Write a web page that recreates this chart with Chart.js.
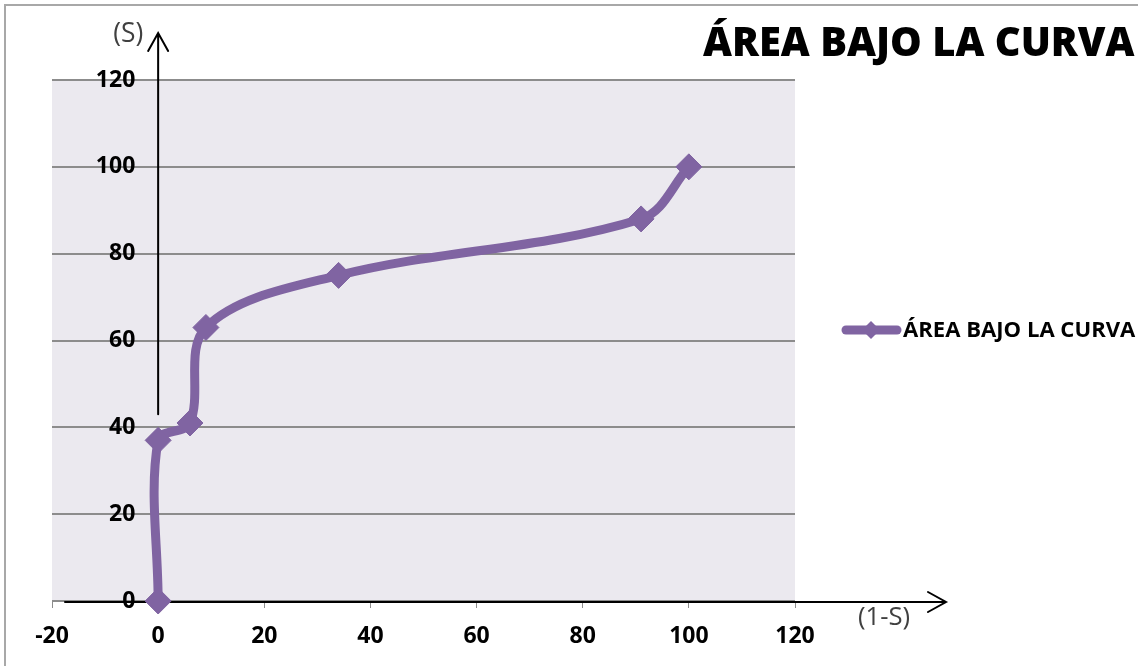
<!DOCTYPE html>
<html>
<head>
<meta charset="utf-8">
<script src="https://cdn.jsdelivr.net/npm/chart.js@4/dist/chart.umd.min.js"></script>
<style>
  html, body { margin: 0; padding: 0; background: #ffffff; }
  #wrap { width: 1138px; height: 666px; position: relative; }
</style>
</head>
<body>
<div id="wrap"><canvas id="c"></canvas></div>
<script>
// Curve points: x = (1-S), y = (S)
const seriesName = 'ÁREA BAJO LA CURVA';
const xValues = [0, 0, 6, 9, 34, 91, 100];
const yValues = [0, 37, 41, 63, 75, 88, 100];
const xTicks = [-20, 0, 20, 40, 60, 80, 100, 120];
const yTicks = [0, 20, 40, 60, 80, 100, 120];

const purple = '#8064A2';
const labelFont = '"Open Sans", Lato, sans-serif';

const points = xValues.map((x, i) => ({ x: x, y: yValues[i] }));

// Frame, plot background, title, legend and the two axis arrows
const decorations = {
  id: 'decorations',
  beforeDraw(chart) {
    const { ctx, chartArea: a } = chart;
    ctx.save();
    ctx.fillStyle = '#ffffff';
    ctx.fillRect(0, 0, chart.width, chart.height);
    // outer frame
    ctx.strokeStyle = '#a8a8a8';
    ctx.lineWidth = 2;
    ctx.beginPath();
    ctx.moveTo(5, chart.height);
    ctx.lineTo(5, 5);
    ctx.lineTo(chart.width, 5);
    ctx.stroke();
    // plot area fill
    ctx.fillStyle = '#EBE9EF';
    ctx.fillRect(a.left, a.top, a.right - a.left, a.bottom - a.top);
    ctx.restore();
  },
  beforeDatasetsDraw(chart) {
    const { ctx, chartArea: a, scales } = chart;
    const x0 = scales.x.getPixelForValue(0);
    const y0 = scales.y.getPixelForValue(0);
    ctx.save();
    ctx.strokeStyle = '#000000';
    ctx.lineWidth = 2;
    ctx.lineCap = 'round';
    // vertical arrow (S)
    const yStart = scales.y.getPixelForValue(43);
    const yTip = a.top - 47;
    ctx.beginPath();
    ctx.moveTo(x0, yStart);
    ctx.lineTo(x0, yTip);
    ctx.moveTo(x0 - 10, yTip + 18);
    ctx.lineTo(x0, yTip);
    ctx.lineTo(x0 + 10, yTip + 18);
    ctx.stroke();
    // horizontal arrow (1-S)
    const xTip = a.right + 151;
    const yA = y0 + 1;
    ctx.beginPath();
    ctx.moveTo(a.left + 13, yA);
    ctx.lineTo(xTip, yA);
    ctx.moveTo(xTip - 18, yA - 10);
    ctx.lineTo(xTip, yA);
    ctx.lineTo(xTip - 18, yA + 10);
    ctx.stroke();
    // arrow captions
    ctx.fillStyle = '#404040';
    ctx.font = '24px ' + labelFont;
    ctx.textBaseline = 'middle';
    ctx.textAlign = 'left';
    let cw = ctx.measureText('(S)').width;
    ctx.font = (24 * 30 / cw).toFixed(1) + 'px ' + labelFont;
    ctx.fillText('(S)', x0 - 45, a.top - 46);
    ctx.font = '24px ' + labelFont;
    cw = ctx.measureText('(1-S)').width;
    ctx.font = (24 * 52 / cw).toFixed(1) + 'px ' + labelFont;
    ctx.fillText('(1-S)', a.right + 63, y0 + 17);
    ctx.restore();
  },
  afterDraw(chart) {
    const { ctx } = chart;
    ctx.save();
    // title
    ctx.fillStyle = '#000000';
    ctx.textBaseline = 'alphabetic';
    ctx.textAlign = 'left';
    ctx.font = '800 36px ' + labelFont;
    const w = ctx.measureText(seriesName).width;
    ctx.font = '800 ' + (36 * 432 / w).toFixed(1) + 'px ' + labelFont;
    ctx.fillText(seriesName, 703, 56);
    // legend
    const ly = 330;
    ctx.strokeStyle = purple;
    ctx.lineWidth = 9;
    ctx.lineCap = 'round';
    ctx.beginPath();
    ctx.moveTo(846, ly);
    ctx.lineTo(897, ly);
    ctx.stroke();
    ctx.fillStyle = purple;
    ctx.beginPath();
    ctx.moveTo(871, ly - 9);
    ctx.lineTo(880, ly);
    ctx.lineTo(871, ly + 9);
    ctx.lineTo(862, ly);
    ctx.closePath();
    ctx.fill();
    ctx.fillStyle = '#000000';
    ctx.font = 'bold 20px ' + labelFont;
    const lw = ctx.measureText(seriesName).width;
    ctx.font = 'bold ' + (20 * 232 / lw).toFixed(1) + 'px ' + labelFont;
    ctx.textBaseline = 'middle';
    ctx.fillText(seriesName, 903, ly + 1);
    ctx.restore();
  }
};

new Chart(document.getElementById('c'), {
  type: 'scatter',
  data: {
    datasets: [{
      label: seriesName,
      data: points,
      showLine: true,
      borderColor: purple,
      backgroundColor: purple,
      borderWidth: 9,
      tension: 0.35,
      pointStyle: 'rectRot',
      pointRadius: 13,
      pointHoverRadius: 13,
      pointBorderWidth: 1,
      pointBorderColor: purple,
      pointBackgroundColor: purple,
      borderCapStyle: 'round',
      borderJoinStyle: 'round',
      clip: false
    }]
  },
  options: {
    responsive: true,
    maintainAspectRatio: false,
    animation: false,
    events: [],
    layout: { padding: { left: 52, top: 80, right: 343, bottom: 0 } },
    plugins: {
      legend: { display: false },
      title: { display: false },
      tooltip: { enabled: false }
    },
    scales: {
      x: {
        type: 'linear',
        min: -20,
        max: 120,
        afterBuildTicks(scale) { scale.ticks = xTicks.map(v => ({ value: v })); },
        afterFit(scale) { scale.height = 65; },
        border: { display: true, color: '#8c8c8c', width: 1 },
        grid: { display: true, drawOnChartArea: false, drawTicks: true, tickLength: 7, color: '#8c8c8c', lineWidth: 1 },
        ticks: {
          color: '#000000',
          font: { family: labelFont, size: 23, weight: 'bold' },
          padding: 15,
          maxRotation: 0
        }
      },
      y: {
        type: 'linear',
        // labels sit to the left of the vertical (S) arrow at x = 0
        position: { x: -4.3 },
        min: 0,
        max: 120,
        afterBuildTicks(scale) { scale.ticks = yTicks.map(v => ({ value: v })); },
        border: { display: false },
        grid: { display: true, drawOnChartArea: true, drawTicks: false, color: '#8c8c8c', lineWidth: 2 },
        ticks: {
          color: '#000000',
          font: { family: labelFont, size: 23, weight: 'bold' },
          padding: 0
        }
      }
    }
  },
  plugins: [decorations]
});
</script>
</body>
</html>
